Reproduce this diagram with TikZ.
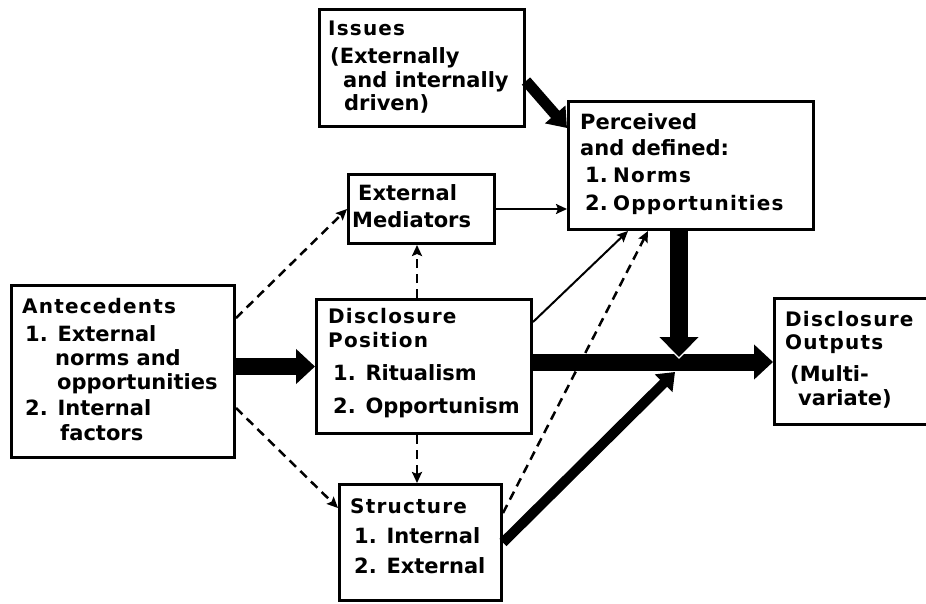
\documentclass[tikz,border=0pt]{standalone}
\usepackage{fontspec}
\setmainfont{DejaVu Sans}
\newfontfamily\headfont[LetterSpace=6]{DejaVu Sans}
\usetikzlibrary{arrows.meta}
\begin{document}
\begin{tikzpicture}[x=1pt,y=-1pt,
  box/.style={draw, line width=3pt, inner sep=0pt, anchor=north west},
  ln/.style={anchor=base west, inner sep=0pt, font=\bfseries\fontsize{21}{24}\selectfont},
  hd/.style={anchor=base west, inner sep=0pt, font=\headfont\bfseries\fontsize{20}{24}\selectfont},
  fatarrow/.style={line width=17pt, -{Triangle[length=19pt,width=34pt]}},
  midarrow/.style={line width=10pt, -{Triangle[length=16pt,width=24pt]}},
  thinarrow/.style={line width=2pt, -{Stealth[length=11pt,width=10pt,inset=2pt]}},
  dasharrow/.style={line width=2.5pt, dash pattern=on 9pt off 6pt, -{Stealth[length=11pt,width=10pt,inset=2pt]}}
]
\useasboundingbox (0,0) rectangle (926,603);

% boxes
\node[box, minimum width=223pt, minimum height=172pt] (ant) at (10,284) {};
\node[box, minimum width=205pt, minimum height=117pt] (iss) at (318,8) {};
\node[box, minimum width=245pt, minimum height=128pt] (perc) at (567,100) {};
\node[box, minimum width=146pt, minimum height=69pt] (med) at (347,173) {};
\node[box, minimum width=215pt, minimum height=134pt] (pos) at (315,298) {};
\node[box, minimum width=162pt, minimum height=116pt] (str) at (338,483) {};
\node[box, minimum width=165pt, minimum height=126pt] (out) at (773,297) {};

% Antecedents
\node[hd] (ant1) at (22,313) {Antecedents};
\node[ln] (ant2) at (25,341) {1. External};
\node[ln] (ant3) at (55,365) {norms and};
\node[ln] (ant4) at (57,389) {opportunities};
\node[ln] (ant5) at (25,415) {2. Internal};
\node[ln] (ant6) at (60,440) {factors};

% Issues
\node[hd] (iss1) at (328,35) {Issues};
\node[ln] (iss2) at (330,63) {(Externally};
\node[ln] (iss3) at (343,87) {and internally};
\node[ln] (iss4) at (344,110) {driven)};

% Perceived and defined
\node[ln] (perc1) at (580,129) {Perceived};
\node[ln] (perc2) at (580,155) {and defined:};
\node[ln] (perc3) at (585,182) {1.};
\node[hd] (perc4) at (613,182) {Norms};
\node[ln] (perc5) at (585,210) {2.};
\node[hd] (perc6) at (613,210) {Opportunities};

% External Mediators
\node[ln] (med1) at (358,200) {External};
\node[ln] (med2) at (352,227) {Mediators};

% Disclosure Position
\node[hd] (pos1) at (328,323) {Disclosure};
\node[hd] (pos2) at (328,347) {Position};
\node[ln] (pos3) at (333,380) {1. Ritualism};
\node[ln] (pos4) at (333,413) {2. Opportunism};

% Structure
\node[hd] (str1) at (350,513) {Structure};
\node[ln] (str2) at (354,543) {1. Internal};
\node[ln] (str3) at (354,573) {2. External};

% Disclosure Outputs
\node[hd] (out1) at (785,326) {Disclosure};
\node[hd] (out2) at (785,349) {Outputs};
\node[ln] (out3) at (790,381) {(Multi-};
\node[ln] (out4) at (798,405) {variate)};

% meeting point of the main flows
\coordinate (jn) at (679,362);

% main flow
\draw[fatarrow] (pos.west -| ant.east) -- (pos.west);
\draw[fatarrow] (pos.east |- jn) -- (jn -| out.west);
% white rim round the tip where it meets the bar
\draw[white, line width=18pt, -{Triangle[length=23pt,width=44pt]}] (perc.south -| jn) -- ([yshift=3pt]jn);
\draw[line width=18pt, -{Triangle[length=20pt,width=38pt]}] (perc.south -| jn) -- ([yshift=5pt]jn);
\draw[midarrow] (str.east) -- ([xshift=-4pt,yshift=-10pt]jn);
\draw[line width=11pt, -{Triangle[length=18pt,width=26pt]}] ([yshift=-13pt]iss.east) -- ([yshift=-28pt]perc.north west);

% thin links
\draw[thinarrow] (med.east) -- (med.east -| perc.west);
\draw[thinarrow] ([yshift=-24pt]pos.north east) -- ([xshift=61pt]perc.south west);
\draw[dasharrow] ([yshift=-30pt]str.north east) -- ([xshift=81pt]perc.south west);
\draw[dasharrow] ([xshift=-7pt]pos.north) -- ([xshift=-7pt]pos.north |- med.south);
\draw[dasharrow] ([xshift=-7pt]pos.south) -- ([xshift=-7pt]pos.south |- str.north);
\draw[dasharrow] ([yshift=-34pt]ant.north east) -- (med.west);
\draw[dasharrow] ([yshift=51pt]ant.south east) -- ([yshift=-25pt]str.north west);
\end{tikzpicture}
\end{document}
